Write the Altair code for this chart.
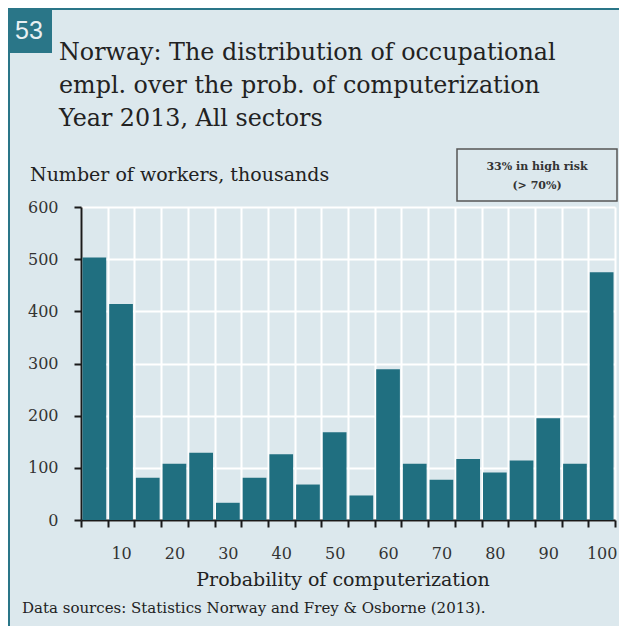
import altair as alt
import pandas as pd

# ---- data ----
prob_upper = [5, 10, 15, 20, 25, 30, 35, 40, 45, 50, 55, 60, 65, 70, 75, 80, 85, 90, 95, 100]
workers = [503, 414, 81, 108, 129, 33, 81, 126, 68, 168, 47, 289, 108, 77, 117, 91, 114, 195, 108, 475]
x_tick_values = [0, 5, 10, 15, 20, 25, 30, 35, 40, 45, 50, 55, 60, 65, 70, 75, 80, 85, 90, 95, 100]
x_label_at = [5, 15, 25, 35, 45, 55, 65, 75, 85, 95]
x_labels = ["10", "20", "30", "40", "50", "60", "70", "80", "90", "100"]
y_tick_values = [0, 100, 200, 300, 400, 500, 600]

badge = ["53"]
title_lines = ["Norway: The distribution of occupational",
               "empl. over the prob. of computerization",
               "Year 2013, All sectors"]
y_title = ["Number of workers, thousands"]
x_title = ["Probability of computerization"]
note_lines = ["33% in high risk", "(> 70%)"]
source = ["Data sources: Statistics Norway and Frey & Osborne (2013)."]

BG = "#dce8ed"
BAR = "#206f80"
TEAL = "#2a7688"
SERIF = "DejaVu Serif"
W, H = 534, 313

df = pd.DataFrame({"hi": prob_upper, "workers": workers})
df["lo"] = df["hi"] - 5

label_expr = "''"
for pos, lab in zip(x_label_at, x_labels):
    label_expr = f"datum.value == {pos} ? '{lab}' : ({label_expr})"

step_px = W / 100 * 5

bars = alt.Chart(df).mark_bar(color=BAR, xOffset=1.5, x2Offset=-1.5).encode(
    x=alt.X("lo:Q", scale=alt.Scale(domain=[0, 100], nice=False, zero=False),
            axis=alt.Axis(values=x_tick_values, labelExpr=label_expr, labelOffset=step_px / 2,
                          labelOverlap=False, labelFlush=False, labelBound=False,
                          labelBaseline="alphabetic", labelPadding=31,
                          title=None)),
    x2="hi:Q",
    y=alt.Y("workers:Q", scale=alt.Scale(domain=[0, 600], nice=False),
            axis=alt.Axis(values=y_tick_values, title=None, labelPadding=16)),
    y2=alt.datum(0),
)

def one(text_list, field="t"):
    return pd.DataFrame({field: ["\n".join(text_list)]})

frame_top = alt.Chart(one(badge)).mark_rule(color=TEAL, strokeWidth=2).encode(
    x=alt.value(-73), x2=alt.value(W + 4), y=alt.value(-198))
frame_left = alt.Chart(one(badge)).mark_rule(color=TEAL, strokeWidth=2).encode(
    x=alt.value(-72), y=alt.value(-199), y2=alt.value(H + 106))

badge_box = alt.Chart(one(badge)).mark_rect(color=TEAL).encode(
    x=alt.value(-73), x2=alt.value(-29), y=alt.value(-199), y2=alt.value(-154))
badge_txt = alt.Chart(one(badge)).mark_text(
    font="Liberation Sans", fontSize=25, color="#e8f0f2", align="center", baseline="alphabetic"
).encode(x=alt.value(-52), y=alt.value(-168), text="t:N")

title_txt = alt.Chart(one(title_lines)).mark_text(
    font=SERIF, fontSize=23.8, color="#222222", align="left", baseline="alphabetic",
    lineBreak="\n", lineHeight=33
).encode(x=alt.value(-22), y=alt.value(-147), text="t:N")

ytitle_txt = alt.Chart(one(y_title)).mark_text(
    font=SERIF, fontSize=19, color="#222222", align="left", baseline="alphabetic"
).encode(x=alt.value(-51), y=alt.value(-26), text="t:N")

note_box = alt.Chart(one(note_lines)).mark_rect(
    fill=BG, stroke="#555555", strokeWidth=1.5
).encode(x=alt.value(376), x2=alt.value(536), y=alt.value(-58), y2=alt.value(-6))
note_txt = alt.Chart(one(note_lines)).mark_text(
    font=SERIF, fontSize=11, fontWeight="bold", color="#333333", align="center",
    baseline="alphabetic", lineBreak="\n", lineHeight=19
).encode(x=alt.value(456), y=alt.value(-37), text="t:N")

xtitle_txt = alt.Chart(one(x_title)).mark_text(
    font=SERIF, fontSize=19, color="#222222", align="center", baseline="alphabetic"
).encode(x=alt.value(262), y=alt.value(H + 66), text="t:N")

source_txt = alt.Chart(one(source)).mark_text(
    font=SERIF, fontSize=15, color="#222222", align="left", baseline="alphabetic"
).encode(x=alt.value(-59), y=alt.value(H + 93), text="t:N")

chart = alt.layer(
    frame_top, frame_left, badge_box, badge_txt, title_txt, ytitle_txt,
    note_box, note_txt, bars, xtitle_txt, source_txt
).properties(
    width=W, height=H,
    autosize=alt.AutoSizeParams(type="none"),
    padding={"left": 73, "top": 199, "right": 4, "bottom": 106},
    background=BG,
).configure_view(
    stroke=None, fill=BG
).configure_axis(
    grid=True, gridColor="white", gridWidth=2, gridOpacity=1,
    domainColor="#1a1a1a", domainWidth=2,
    tickColor="#1a1a1a", tickWidth=2, tickSize=7,
    labelFont=SERIF, labelFontSize=16, labelColor="#333333",
)

chart.save("out.html", embed_options={"renderer": "svg", "actions": False})
